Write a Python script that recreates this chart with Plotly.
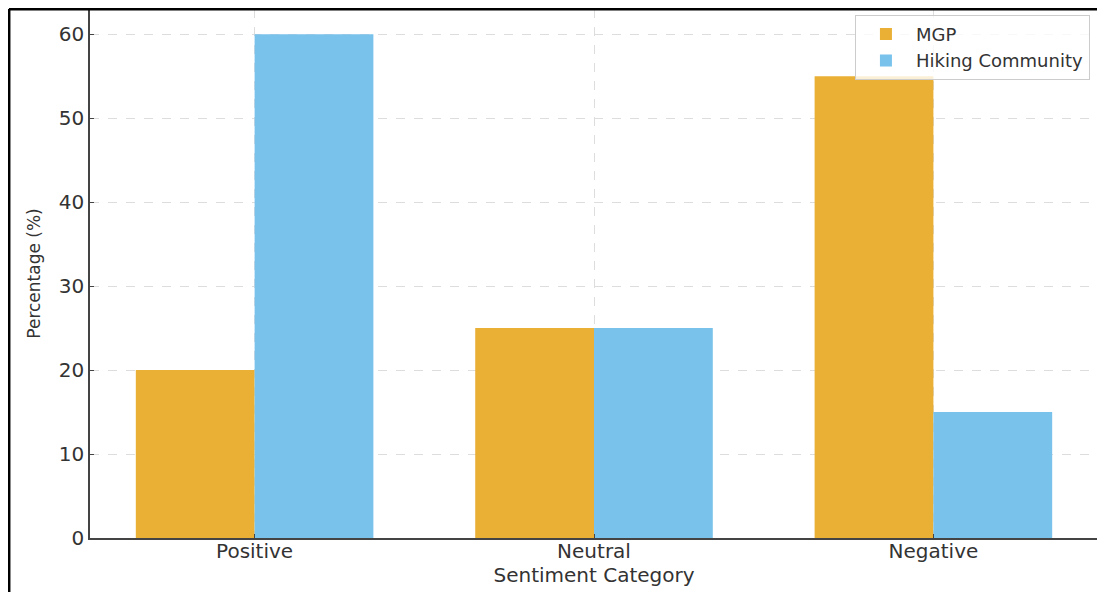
import plotly.graph_objects as go

categories = ["Positive", "Neutral", "Negative"]
mgp = [20, 25, 55]
hiking = [60, 25, 15]
y_ticks = [0, 10, 20, 30, 40, 50, 60]

font = "DejaVu Sans, Verdana, sans-serif"

fig = go.Figure()
fig.add_trace(go.Bar(x=categories, y=mgp, name="MGP", marker=dict(color="#EAB035", line=dict(width=0))))
fig.add_trace(go.Bar(x=categories, y=hiking, name="Hiking Community", marker=dict(color="#79C2EC", line=dict(width=0))))

fig.update_layout(
    width=1097, height=584,
    barmode="group", bargap=0.3, bargroupgap=0,
    plot_bgcolor="white", paper_bgcolor="white",
    margin=dict(l=82, r=7, t=1, b=54),
    font=dict(family=font, size=19, color="#333"),
    legend=dict(x=0.992, y=0.989, xanchor="right", yanchor="top",
                bordercolor="#cccccc", borderwidth=1, bgcolor="rgba(255,255,255,0.8)",
                font=dict(size=18, color="#333"), tracegroupgap=0, itemwidth=50),
    showlegend=True,
)
fig.update_xaxes(
    range=[-0.485, 2.485], showgrid=True, gridcolor="#dddddd", griddash="dash", gridwidth=1,
    showline=True, linecolor="#444", linewidth=1.5, ticks="inside", ticklen=4, tickcolor="#444",
    ticklabelstandoff=-6,
    title=dict(text="Sentiment Category", font=dict(size=20, color="#333"), standoff=0),
    tickfont=dict(size=20, color="#333"),
)
fig.update_yaxes(
    range=[0, 63], tickvals=y_ticks, showgrid=True, gridcolor="#dddddd", griddash="dash", gridwidth=1,
    showline=True, linecolor="#444", linewidth=1.5, ticks="inside", ticklen=4, tickcolor="#444",
    zeroline=False,
    title=dict(text="Percentage (%)", font=dict(size=17, color="#333"), standoff=14),
    tickfont=dict(size=20, color="#333"),
)
# Outer black frame (top and left edges of the image)
fig.add_shape(type="line", xref="paper", yref="paper", x0=-0.0804, x1=1.02, y0=1.0, y1=1.0,
              line=dict(color="black", width=3))
fig.add_shape(type="line", xref="paper", yref="paper", x0=-0.0804, x1=-0.0804, y0=1.0, y1=-0.11,
              line=dict(color="black", width=3))

fig.write_html("out.html")
